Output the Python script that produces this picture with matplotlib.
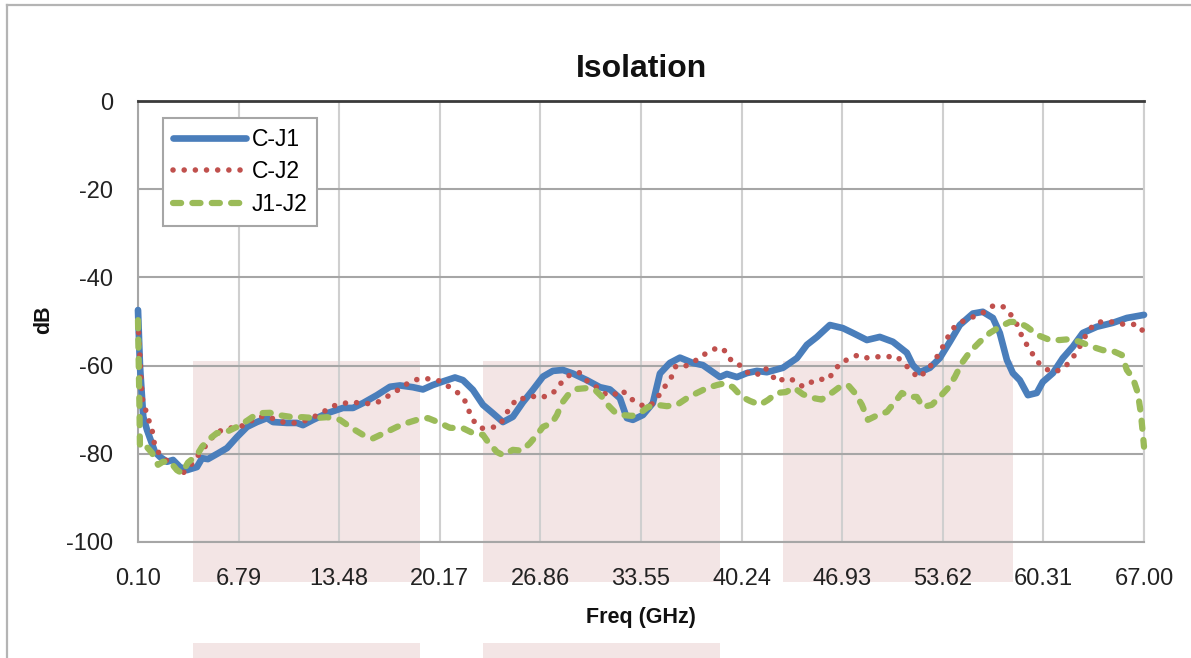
import matplotlib
matplotlib.use("Agg")
import matplotlib.pyplot as plt
from matplotlib.lines import Line2D
from matplotlib.patches import Rectangle
from matplotlib.transforms import blended_transform_factory

plt.rcParams['font.family'] = ['Liberation Sans', 'DejaVu Sans']
plt.rcParams['axes.unicode_minus'] = False

# ---------------- data ----------------
title = "Isolation"
x_label = "Freq (GHz)"
y_label = "dB"
x_ticks = [0.10, 6.79, 13.48, 20.17, 26.86, 33.55, 40.24, 46.93, 53.62, 60.31, 67.00]
x_tick_labels = ["0.10", "6.79", "13.48", "20.17", "26.86", "33.55", "40.24",
                 "46.93", "53.62", "60.31", "67.00"]
y_ticks = [0, -20, -40, -60, -80, -100]
series_names = ["C-J1", "C-J2", "J1-J2"]

cj1_f = [0.1, 0.23, 0.45, 0.7, 1.23, 1.56, 2.03, 2.43, 2.89, 3.36, 4.02, 4.36, 4.75,
         5.42, 6.02, 6.68, 7.35, 8.01, 8.68, 9.08, 10.01, 10.67, 11.07, 11.74, 12.67,
         13.73, 14.4, 15.06, 15.99, 16.86, 17.52, 18.38, 19.05, 19.71, 20.38, 21.18,
         21.71, 22.37, 23.04, 23.7, 24.37, 25.03, 25.7, 26.36, 27.03, 27.69, 28.36,
         29.02, 29.95, 30.82, 31.48, 32.15, 32.61, 33.01, 33.68, 34.34, 34.81, 35.47,
         36.14, 37.0, 37.67, 38.8, 39.26, 39.93, 40.59, 41.26, 41.92, 42.99, 43.92,
         44.58, 45.25, 46.11, 46.97, 47.64, 48.57, 49.43, 50.3, 51.23, 51.63, 52.09,
         52.76, 53.42, 54.09, 54.75, 55.62, 56.28, 56.95, 57.41, 57.88, 58.28, 58.74,
         59.28, 59.87, 60.27, 60.94, 61.6, 62.27, 62.93, 63.86, 64.93, 65.86, 67.0]
cj1_db = [-47.4, -60.0, -71.6, -74.6, -79.6, -80.7, -81.8, -81.4, -83.0, -83.7, -83.0,
          -81.0, -81.2, -79.9, -78.7, -76.2, -73.9, -72.8, -71.9, -72.8, -73.0, -73.0,
          -73.5, -72.3, -70.8, -69.6, -69.6, -68.5, -66.7, -64.8, -64.5, -64.9, -65.4,
          -64.4, -63.6, -62.7, -63.3, -65.5, -68.9, -70.8, -72.8, -71.6, -68.3, -65.5,
          -62.5, -61.2, -61.0, -61.8, -63.3, -64.9, -65.4, -67.4, -71.9, -72.3, -71.2,
          -68.5, -61.8, -59.4, -58.2, -59.4, -59.9, -62.6, -61.9, -62.6, -61.7, -61.2,
          -61.5, -60.5, -58.3, -55.3, -53.5, -50.8, -51.5, -52.6, -54.2, -53.5, -54.6,
          -57.1, -59.9, -61.5, -60.5, -58.3, -54.6, -50.8, -48.2, -47.8, -49.2, -52.6,
          -58.7, -61.7, -63.3, -66.7, -66.2, -63.7, -61.7, -58.3, -55.7, -52.6, -51.2,
          -50.3, -49.2, -48.5]

cj2_f = [0.1, 0.3, 0.37, 0.57, 0.76, 1.03, 1.1, 1.3, 1.76, 2.23, 3.09, 3.76, 4.02, 5.29,
         5.88, 7.28, 7.88, 8.54, 9.74, 10.47, 11.14, 11.74, 12.33, 12.87, 13.53, 14.26,
         14.99, 15.73, 16.39, 16.92, 17.52, 18.12, 18.78, 19.51, 20.18, 20.78, 21.38,
         21.84, 22.11, 22.44, 22.91, 23.5, 24.17, 24.5, 24.9, 25.37, 25.96, 26.63,
         27.23, 27.83, 28.29, 28.82, 29.42, 29.89, 30.49, 31.02, 31.62, 32.28, 32.75,
         33.28, 33.81, 34.41, 34.81, 35.21, 35.61, 35.87, 36.34, 37.0, 37.53, 38.13,
         38.66, 39.26, 39.59, 40.26, 40.73, 41.26, 41.79, 42.19, 42.59, 43.19, 43.78,
         44.32, 44.91, 45.38, 45.91, 46.38, 46.78, 47.37, 47.97, 48.64, 49.3, 49.97,
         50.5, 51.03, 51.5, 52.03, 52.56, 53.03, 53.42, 53.76, 54.09, 54.49, 55.09,
         55.75, 56.42, 57.02, 57.68, 58.15, 58.54, 58.81, 59.14, 59.54, 59.94, 60.47,
         61.07, 61.74, 62.2, 62.6, 62.93, 63.27, 63.8, 64.46, 65.19, 65.86, 66.52, 67.0]
cj2_db = [-50.0, -62.6, -67.3, -69.6, -71.9, -74.2, -76.4, -79.1, -80.7, -82.3, -84.4,
          -82.0, -80.7, -75.2, -74.4, -73.5, -71.9, -71.4, -72.8, -73.0, -72.6, -71.7,
          -70.8, -69.4, -68.7, -68.3, -68.5, -68.7, -67.8, -66.4, -65.3, -63.8, -63.0,
          -63.0, -63.5, -64.8, -66.2, -68.0, -70.3, -72.6, -74.2, -74.2, -73.5, -71.4,
          -69.2, -67.3, -67.6, -66.7, -67.1, -65.8, -63.7, -62.1, -61.5, -63.3, -64.6,
          -66.2, -66.9, -65.5, -67.3, -68.3, -69.4, -68.5, -66.4, -64.4, -62.4, -60.1,
          -60.3, -59.4, -57.8, -56.9, -55.8, -56.9, -59.2, -60.1, -61.9, -62.1, -60.5,
          -61.9, -63.7, -62.8, -63.4, -64.8, -63.7, -63.0, -63.3, -61.5, -59.4, -58.5,
          -57.6, -58.3, -58.0, -58.0, -57.8, -59.4, -61.2, -62.8, -61.0, -59.2, -56.9,
          -54.9, -52.6, -50.8, -49.7, -48.8, -47.8, -46.3, -46.7, -48.5, -50.6, -52.8,
          -54.9, -57.1, -59.2, -60.8, -61.5, -60.3, -58.5, -56.5, -54.4, -52.2, -50.3,
          -49.9, -50.3, -50.8, -50.6, -52.4]

j1j2_f = [0.1, 0.15, 0.2, 0.23, 0.57, 1.03, 1.43, 1.76, 2.23, 2.69, 3.03, 3.42, 4.02,
          4.36, 4.75, 5.35, 5.88, 6.68, 7.35, 8.08, 8.88, 9.41, 10.41, 11.07, 11.87,
          12.67, 13.53, 14.33, 15.06, 15.73, 16.66, 17.32, 17.99, 18.65, 19.38, 20.18,
          20.84, 21.71, 22.37, 23.04, 23.37, 23.97, 24.37, 25.03, 25.63, 26.16, 26.63,
          27.03, 27.63, 27.96, 28.29, 28.69, 29.29, 29.95, 30.49, 31.02, 31.42, 31.88,
          32.28, 32.95, 33.48, 34.01, 34.61, 35.27, 35.94, 36.6, 37.27, 37.93, 38.6,
          39.13, 39.66, 40.26, 40.79, 41.46, 41.99, 42.59, 43.19, 43.72, 44.32, 44.91,
          45.55, 46.31, 46.78, 47.31, 47.77, 48.24, 48.64, 49.3, 49.9, 50.43, 50.9,
          51.43, 51.89, 52.29, 52.89, 53.42, 53.96, 54.42, 54.89, 55.42, 56.08, 56.75,
          57.41, 58.08, 58.61, 59.21, 59.94, 60.74, 61.4, 62.07, 62.73, 63.53, 64.26,
          64.93, 65.53, 65.86, 66.26, 66.59, 66.79, 66.92, 67.0]
j1j2_db = [-49.7, -60.0, -70.0, -78.4, -78.0, -79.8, -82.5, -81.8, -81.8, -83.7, -84.4,
           -82.0, -80.3, -78.4, -76.9, -75.3, -75.2, -73.9, -72.5, -70.8, -70.7, -71.2,
           -71.7, -71.7, -71.9, -71.7, -72.3, -74.2, -75.7, -76.5, -75.0, -73.9, -73.0,
           -72.3, -71.9, -73.0, -74.1, -74.2, -75.3, -75.7, -77.3, -79.6, -80.3, -79.1,
           -79.3, -77.6, -75.7, -73.9, -73.0, -71.2, -68.5, -66.7, -65.3, -65.1, -65.5,
           -67.3, -69.2, -70.8, -71.2, -71.4, -70.8, -69.4, -68.9, -69.2, -68.9, -67.4,
           -66.2, -65.1, -64.4, -64.0, -64.9, -67.1, -68.0, -68.9, -67.8, -66.2, -66.0,
           -65.0, -66.5, -67.3, -67.7, -66.0, -64.8, -64.4, -66.2, -68.9, -72.3, -71.2,
           -70.5, -68.3, -66.2, -67.1, -67.1, -69.4, -68.9, -67.1, -65.1, -62.6, -59.4,
           -56.9, -54.6, -52.6, -51.2, -50.1, -50.1, -51.2, -53.1, -54.2, -54.2, -54.0,
           -54.6, -55.7, -56.5, -56.7, -57.6, -61.0, -62.8, -66.2, -70.8, -75.3, -78.4]

# shaded bands behind the chart (GHz ranges)
band_ranges = [(3.76, 18.85), (23.04, 38.8), (42.99, 58.28)]

# ---------------- figure ----------------
W, H = 1191, 658
fig = plt.figure(figsize=(W / 100, H / 100), dpi=100)
fig.patch.set_facecolor('white')
ax = fig.add_axes([138 / W, (H - 542) / H, (1144 - 138) / W, (542 - 101) / H])
ax.set_facecolor('none')
ax.set_xlim(0.1, 67.0)
ax.set_ylim(-100, 0)

pink = '#f3e5e5'
btr = blended_transform_factory(ax.transData, fig.transFigure)
for i, (a, b) in enumerate(band_ranges):
    r = Rectangle((a, (H - 582) / H), b - a, (582 - 361) / H, transform=btr,
                  facecolor=pink, edgecolor='none', zorder=-5)
    fig.add_artist(r)
    if i < 2:
        r2 = Rectangle((a, 0), b - a, (H - 643) / H, transform=btr,
                       facecolor=pink, edgecolor='none', zorder=-5)
        fig.add_artist(r2)

# outer chart border
fig.add_artist(Line2D([6.5 / W, 6.5 / W], [0, 1 - 5 / H], transform=fig.transFigure,
                      color='#b4b4b4', lw=1.6))
fig.add_artist(Line2D([6.5 / W, 1], [1 - 5 / H, 1 - 5 / H], transform=fig.transFigure,
                      color='#b4b4b4', lw=1.6))

ax.set_axisbelow(True)
ax.yaxis.grid(True, color='#a6a6a6', lw=1.5)
ax.xaxis.grid(True, color='#cfcfcf', lw=1.5)
ax.spines['top'].set_color('#3a3a3a')
ax.spines['top'].set_linewidth(2.0)
ax.spines['left'].set_color('#a6a6a6')
ax.spines['left'].set_linewidth(1.5)
ax.spines['bottom'].set_color('#a6a6a6')
ax.spines['bottom'].set_linewidth(1.5)
ax.spines['right'].set_color('#cfcfcf')
ax.spines['right'].set_linewidth(1.5)

ax.set_xticks(x_ticks)
ax.set_xticklabels(x_tick_labels)
ax.set_yticks(y_ticks)
ax.tick_params(axis='both', length=0, labelsize=17, colors='#222222')
ax.tick_params(axis='x', pad=19)
ax.tick_params(axis='y', pad=18)

blue, red, green = '#4A7EBB', '#C0504D', '#9BBB59'
l1, = ax.plot(cj1_f, cj1_db, color=blue, lw=4.8, solid_joinstyle='round',
              solid_capstyle='round', clip_on=False, zorder=3, label=series_names[0])
l2, = ax.plot(cj2_f, cj2_db, color=red, lw=4.0, linestyle=(0, (0.01, 2.0)),
              dash_capstyle='round', clip_on=False, zorder=4, label=series_names[1])
l3, = ax.plot(j1j2_f, j1j2_db, color=green, lw=4.5, linestyle=(0, (1.3, 1.8)),
              dash_capstyle='round', clip_on=False, zorder=5, label=series_names[2])

leg = ax.legend(handles=[l1, l2, l3], loc='upper left',
                bbox_to_anchor=((163 - 138) / 1006, (542 - 118) / 441),
                borderaxespad=0, fontsize=16.5, handlelength=3.2, handletextpad=0.25,
                labelspacing=0.42, borderpad=0.42, fancybox=False, framealpha=1,
                edgecolor='#a6a6a6')
leg.get_frame().set_linewidth(1.5)

fig.text(641 / W, 1 - 69 / H, title, ha='center', va='center', fontsize=23,
         fontweight='bold', color='#111111')
ax.set_xlabel(x_label, fontsize=15.5, fontweight='bold', color='#111111')
ax.xaxis.set_label_coords(0.5, (542 - 618) / 441)
ax.xaxis.label.set_va('center')
ax.set_ylabel(y_label, fontsize=15.5, fontweight='bold', color='#111111')
ax.yaxis.set_label_coords((44 - 138) / 1006, (542 - 320) / 441)
ax.yaxis.label.set_va('center')

fig.savefig('out.png', dpi=100)
